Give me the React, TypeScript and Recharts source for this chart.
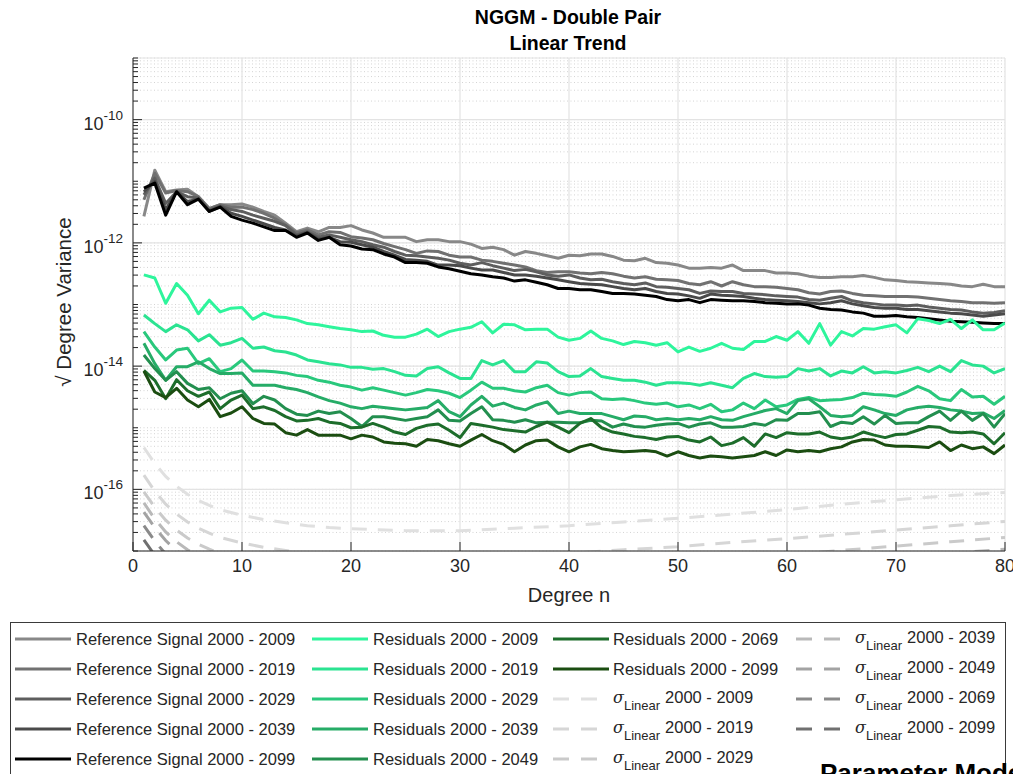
import { LineChart, Line, XAxis, YAxis, CartesianGrid } from "recharts";

const FONT = '"Liberation Sans", Arial, Helvetica, sans-serif';
const INK = "#262626";

// spherical harmonic degree n
const degrees = [
  1, 2, 3, 4, 5, 6, 7, 8, 9, 10, 11, 12, 13, 14, 15, 16, 17, 18, 19, 20,
  21, 22, 23, 24, 25, 26, 27, 28, 29, 30, 31, 32, 33, 34, 35, 36, 37, 38, 39, 40,
  41, 42, 43, 44, 45, 46, 47, 48, 49, 50, 51, 52, 53, 54, 55, 56, 57, 58, 59, 60,
  61, 62, 63, 64, 65, 66, 67, 68, 69, 70, 71, 72, 73, 74, 75, 76, 77, 78, 79, 80,
];

// log10 of sqrt degree variance
const ref2009Log = [
  -11.57, -10.82, -11.17, -11.14, -11.13, -11.25, -11.44, -11.38, -11.38, -11.37,
  -11.42, -11.49, -11.55, -11.68, -11.82, -11.76, -11.82, -11.75, -11.75, -11.72,
  -11.79, -11.84, -11.91, -11.91, -11.91, -11.98, -11.95, -11.95, -11.98, -11.98,
  -12.02, -12.09, -12.07, -12.11, -12.2, -12.14, -12.17, -12.21, -12.25, -12.2,
  -12.21, -12.18, -12.18, -12.22, -12.28, -12.29, -12.25, -12.32, -12.33, -12.36,
  -12.41, -12.41, -12.4, -12.41, -12.36, -12.45, -12.45, -12.45, -12.49, -12.49,
  -12.5, -12.54, -12.56, -12.56, -12.55, -12.55, -12.53, -12.56, -12.6, -12.61,
  -12.63, -12.64, -12.65, -12.66, -12.67, -12.7, -12.71, -12.67, -12.71, -12.71,
];
const ref2019Log = [
  -11.3, -10.87, -11.19, -11.15, -11.17, -11.25, -11.45, -11.38, -11.42, -11.42,
  -11.46, -11.52, -11.6, -11.71, -11.84, -11.79, -11.87, -11.82, -11.83, -11.9,
  -11.92, -11.95, -12.01, -12.06, -12.11, -12.17, -12.13, -12.14, -12.2, -12.23,
  -12.23, -12.28, -12.3, -12.33, -12.36, -12.39, -12.45, -12.48, -12.47, -12.47,
  -12.49, -12.5, -12.48, -12.5, -12.54, -12.57, -12.55, -12.59, -12.6, -12.61,
  -12.66, -12.68, -12.63, -12.7, -12.63, -12.68, -12.71, -12.71, -12.72, -12.74,
  -12.76, -12.81, -12.83, -12.79, -12.78, -12.82, -12.85, -12.86, -12.87, -12.87,
  -12.87, -12.88, -12.9, -12.92, -12.94, -12.95, -12.97, -12.97, -12.98, -12.97,
];
const ref2029Log = [
  -11.22, -10.95, -11.36, -11.17, -11.25, -11.27, -11.47, -11.4, -11.46, -11.49,
  -11.55, -11.6, -11.65, -11.72, -11.87, -11.82, -11.91, -11.87, -11.91, -11.95,
  -11.98, -12.03, -12.07, -12.14, -12.2, -12.21, -12.23, -12.25, -12.28, -12.33,
  -12.36, -12.32, -12.37, -12.41, -12.45, -12.43, -12.47, -12.52, -12.54, -12.52,
  -12.57, -12.6, -12.59, -12.63, -12.66, -12.68, -12.65, -12.71, -12.72, -12.74,
  -12.76, -12.82, -12.78, -12.79, -12.79, -12.82, -12.83, -12.84, -12.86, -12.87,
  -12.88, -12.92, -12.93, -12.9, -12.87, -12.94, -12.97, -12.99, -13.01, -13.01,
  -13.02, -13.01, -13.04, -13.06, -13.08, -13.09, -13.12, -13.14, -13.13, -13.1,
];
const ref2039Log = [
  -11.17, -11.0, -11.46, -11.17, -11.33, -11.29, -11.49, -11.41, -11.52, -11.57,
  -11.63, -11.69, -11.75, -11.79, -11.89, -11.83, -11.94, -11.91, -11.98, -11.99,
  -12.03, -12.07, -12.14, -12.2, -12.27, -12.28, -12.3, -12.36, -12.36, -12.37,
  -12.41, -12.44, -12.44, -12.48, -12.52, -12.52, -12.54, -12.57, -12.6, -12.63,
  -12.66, -12.67, -12.68, -12.71, -12.74, -12.76, -12.74, -12.79, -12.82, -12.83,
  -12.86, -12.9, -12.83, -12.85, -12.86, -12.87, -12.9, -12.92, -12.93, -12.94,
  -12.95, -12.97, -12.99, -12.97, -12.94, -12.99, -13.02, -13.05, -13.06, -13.06,
  -13.08, -13.08, -13.1, -13.12, -13.14, -13.15, -13.17, -13.19, -13.17, -13.15,
];
const ref2099Log = [
  -11.11, -11.03, -11.55, -11.17, -11.38, -11.29, -11.49, -11.42, -11.57, -11.63,
  -11.68, -11.74, -11.8, -11.8, -11.91, -11.84, -11.96, -11.91, -12.03, -12.05,
  -12.1, -12.11, -12.18, -12.23, -12.32, -12.32, -12.33, -12.39, -12.42, -12.46,
  -12.5, -12.52, -12.55, -12.57, -12.62, -12.6, -12.64, -12.68, -12.74, -12.74,
  -12.76, -12.76, -12.79, -12.82, -12.82, -12.83, -12.85, -12.87, -12.92, -12.94,
  -12.92, -12.97, -12.92, -12.93, -12.94, -12.94, -12.95, -12.97, -12.98, -12.99,
  -12.99, -13.01, -13.06, -13.08, -13.09, -13.12, -13.14, -13.19, -13.19, -13.18,
  -13.2, -13.21, -13.23, -13.25, -13.27, -13.28, -13.29, -13.3, -13.31, -13.31,
];

const res2009Log = [
  -12.52, -12.57, -12.98, -12.66, -12.85, -13.15, -12.93, -13.12, -13.06, -13.05,
  -13.24, -13.14, -13.2, -13.21, -13.25, -13.31, -13.33, -13.36, -13.39, -13.41,
  -13.44, -13.43, -13.5, -13.53, -13.53, -13.48, -13.4, -13.52, -13.44, -13.4,
  -13.37, -13.28, -13.46, -13.32, -13.33, -13.41, -13.4, -13.4, -13.53, -13.58,
  -13.55, -13.43, -13.55, -13.59, -13.65, -13.6, -13.62, -13.66, -13.62, -13.77,
  -13.69, -13.76, -13.71, -13.63, -13.71, -13.73, -13.6, -13.6, -13.52, -13.58,
  -13.44, -13.63, -13.31, -13.66, -13.44, -13.51, -13.39, -13.4, -13.36, -13.33,
  -13.46, -13.23, -13.26, -13.31, -13.24, -13.39, -13.25, -13.41, -13.41, -13.3,
];
const res2019Log = [
  -13.17, -13.31, -13.44, -13.33, -13.41, -13.59, -13.49, -13.66, -13.62, -13.55,
  -13.71, -13.69, -13.75, -13.77, -13.82, -13.9, -13.93, -13.96, -13.98, -14.02,
  -14.02, -14.05, -14.04, -14.09, -14.15, -14.16, -14.04, -14.01, -14.11, -14.2,
  -14.2, -13.91, -13.98, -13.91, -14.09, -14.09, -13.93, -13.95, -14.09, -14.17,
  -14.16, -14.04, -14.17, -14.2, -14.23, -14.23, -14.26, -14.31, -14.27, -14.27,
  -14.28, -14.31, -14.27, -14.31, -14.35, -14.2, -14.12, -14.17, -14.18, -14.17,
  -14.04, -14.08, -14.04, -14.16, -14.08, -14.11, -14.01, -14.11, -14.09, -14.11,
  -14.07, -14.02, -14.09, -14.0, -14.09, -13.91, -13.98, -14.0, -14.11, -14.04,
];
const res2029Log = [
  -13.44, -13.69, -13.9, -13.74, -13.71, -13.96, -13.88, -14.09, -14.04, -13.9,
  -14.08, -14.08, -14.09, -14.11, -14.15, -14.17, -14.23, -14.26, -14.31, -14.34,
  -14.39, -14.35, -14.39, -14.43, -14.47, -14.43, -14.38, -14.4, -14.44, -14.51,
  -14.39, -14.26, -14.36, -14.36, -14.4, -14.42, -14.35, -14.31, -14.43, -14.47,
  -14.43, -14.42, -14.53, -14.54, -14.53, -14.56, -14.6, -14.62, -14.6, -14.66,
  -14.63, -14.69, -14.62, -14.74, -14.71, -14.6, -14.69, -14.55, -14.66, -14.63,
  -14.54, -14.51, -14.56, -14.55, -14.54, -14.51, -14.44, -14.46, -14.47, -14.49,
  -14.42, -14.33, -14.4, -14.53, -14.56, -14.38, -14.5, -14.49, -14.62, -14.49,
];
const res2039Log = [
  -13.63, -13.96, -14.23, -14.01, -14.01, -13.93, -14.04, -14.12, -14.12, -14.11,
  -14.31, -14.31, -14.31, -14.35, -14.38, -14.43, -14.5, -14.56, -14.6, -14.66,
  -14.69, -14.65, -14.67, -14.69, -14.71, -14.69, -14.67, -14.56, -14.74, -14.82,
  -14.63, -14.49, -14.65, -14.6, -14.67, -14.71, -14.63, -14.58, -14.77, -14.73,
  -14.77, -14.77, -14.77, -14.82, -14.87, -14.81, -14.82, -14.87, -14.85, -14.87,
  -14.85, -14.87, -14.82, -14.87, -14.88, -14.82, -14.77, -14.72, -14.69, -14.77,
  -14.56, -14.53, -14.66, -14.8, -14.82, -14.8, -14.66, -14.71, -14.77, -14.8,
  -14.71, -14.67, -14.65, -14.67, -14.71, -14.73, -14.77, -14.76, -14.85, -14.72,
];
const res2049Log = [
  -13.82, -14.04, -14.23, -14.09, -14.28, -14.38, -14.35, -14.53, -14.44, -14.4,
  -14.61, -14.49, -14.55, -14.69, -14.78, -14.8, -14.73, -14.77, -14.74, -14.85,
  -14.98, -14.82, -14.82, -14.85, -14.88, -14.85, -14.82, -14.71, -14.88, -14.89,
  -14.77, -14.66, -14.87, -14.88, -14.91, -14.87, -14.92, -14.91, -14.91, -14.92,
  -14.92, -14.88, -14.89, -14.99, -14.94, -14.98, -14.99, -14.96, -14.94, -14.93,
  -14.99, -14.94, -14.92, -14.99, -14.99, -14.98, -14.93, -14.96, -14.87, -14.88,
  -14.77, -14.77, -14.74, -14.98, -14.91, -14.93, -14.82, -14.94, -14.8, -14.93,
  -14.92, -14.92, -14.82, -14.73, -14.88, -14.73, -14.88, -14.77, -14.99, -14.77,
];
const res2069Log = [
  -14.07, -14.23, -14.53, -14.22, -14.4, -14.49, -14.42, -14.69, -14.55, -14.47,
  -14.69, -14.66, -14.72, -14.82, -14.89, -14.88, -14.85, -14.91, -14.93, -15.0,
  -14.99, -14.93, -14.99, -15.07, -15.11, -15.01, -14.96, -14.94, -15.04, -15.16,
  -14.93, -14.96, -14.99, -15.03, -15.05, -15.07, -14.98, -14.91, -14.99, -15.08,
  -14.93, -14.85, -15.0, -15.07, -15.1, -15.14, -15.16, -15.19, -15.15, -15.14,
  -15.2, -15.23, -15.15, -15.29, -15.25, -15.16, -15.3, -15.1, -15.16, -15.08,
  -15.1, -15.1, -15.07, -15.15, -15.18, -15.15, -15.07, -15.12, -15.16, -15.11,
  -15.1, -15.04, -14.98, -14.99, -15.07, -15.08, -15.07, -15.1, -15.26, -15.08,
];
const res2099Log = [
  -14.08, -14.42, -14.51, -14.36, -14.55, -14.66, -14.54, -14.82, -14.76, -14.66,
  -14.85, -14.93, -14.94, -15.08, -15.12, -15.03, -15.12, -15.12, -15.12, -15.18,
  -15.12, -15.15, -15.23, -15.25, -15.26, -15.3, -15.19, -15.21, -15.26, -15.3,
  -15.2, -15.11, -15.21, -15.27, -15.39, -15.28, -15.21, -15.2, -15.31, -15.39,
  -15.31, -15.27, -15.34, -15.37, -15.39, -15.38, -15.37, -15.39, -15.46, -15.39,
  -15.45, -15.49, -15.46, -15.47, -15.49, -15.47, -15.45, -15.39, -15.45, -15.36,
  -15.39, -15.37, -15.39, -15.34, -15.31, -15.23, -15.19, -15.2, -15.28, -15.3,
  -15.3, -15.31, -15.32, -15.23, -15.37, -15.28, -15.34, -15.31, -15.42, -15.28,
];

// formal error of the linear trend (smooth), sampled at these degrees
const sigmaDegrees = [1, 2, 3, 4, 5, 6, 7, 8, 10, 12, 14, 16, 18, 20, 25, 30, 35, 40, 45, 50, 55, 60, 65, 70, 75, 80];
const sigma2009Log = [-15.32, -15.58, -15.79, -15.95, -16.08, -16.18, -16.26, -16.33, -16.42, -16.49, -16.54, -16.59, -16.62, -16.64, -16.67, -16.67, -16.63, -16.59, -16.53, -16.47, -16.4, -16.33, -16.24, -16.17, -16.1, -16.05];
const sigma2019Log = [-15.77, -16.03, -16.24, -16.4, -16.53, -16.63, -16.71, -16.78, -16.87, -16.94, -16.99, -17.04, -17.07, -17.09, -17.12, -17.12, -17.08, -17.04, -16.98, -16.93, -16.86, -16.8, -16.73, -16.66, -16.59, -16.52];
const sigma2029Log = [-16.04, -16.29, -16.5, -16.66, -16.79, -16.89, -16.97, -17.04, -17.13, -17.2, -17.25, -17.3, -17.33, -17.35, -17.38, -17.38, -17.34, -17.3, -17.24, -17.19, -17.12, -17.06, -16.99, -16.92, -16.85, -16.78];
const sigma2039Log = [-16.22, -16.48, -16.69, -16.85, -16.98, -17.08, -17.16, -17.23, -17.32, -17.39, -17.44, -17.49, -17.52, -17.54, -17.57, -17.57, -17.53, -17.49, -17.43, -17.38, -17.31, -17.25, -17.18, -17.11, -17.04, -16.97];
const sigma2049Log = [-16.37, -16.62, -16.83, -17.0, -17.13, -17.23, -17.31, -17.38, -17.47, -17.54, -17.59, -17.64, -17.67, -17.69, -17.72, -17.72, -17.68, -17.64, -17.58, -17.53, -17.46, -17.4, -17.33, -17.26, -17.19, -17.12];
const sigma2069Log = [-16.59, -16.84, -17.05, -17.21, -17.34, -17.44, -17.52, -17.59, -17.68, -17.75, -17.8, -17.85, -17.88, -17.9, -17.93, -17.93, -17.89, -17.85, -17.79, -17.74, -17.67, -17.61, -17.54, -17.47, -17.4, -17.33];
const sigma2099Log = [-16.82, -17.07, -17.28, -17.44, -17.57, -17.67, -17.75, -17.82, -17.91, -17.98, -18.03, -18.08, -18.11, -18.13, -18.16, -18.16, -18.12, -18.08, -18.02, -17.97, -17.9, -17.84, -17.77, -17.7, -17.63, -17.56];

const xTicks = [0, 10, 20, 30, 40, 50, 60, 70, 80];
const yMajorExp = [-16, -14, -12, -10];
const yDomain: [number, number] = [1e-17, 1e-9];

const refSeries = [
  { key: "ref2009", label: "Reference Signal 2000 - 2009", color: "#888888", values: ref2009Log },
  { key: "ref2019", label: "Reference Signal 2000 - 2019", color: "#717171", values: ref2019Log },
  { key: "ref2029", label: "Reference Signal 2000 - 2029", color: "#5e5e5e", values: ref2029Log },
  { key: "ref2039", label: "Reference Signal 2000 - 2039", color: "#4a4a4a", values: ref2039Log },
  { key: "ref2099", label: "Reference Signal 2000 - 2099", color: "#000000", values: ref2099Log },
];
const residualSeries = [
  { key: "res2009", label: "Residuals 2000 - 2009", color: "#2ef59c", values: res2009Log },
  { key: "res2019", label: "Residuals 2000 - 2019", color: "#2be391", values: res2019Log },
  { key: "res2029", label: "Residuals 2000 - 2029", color: "#29c87c", values: res2029Log },
  { key: "res2039", label: "Residuals 2000 - 2039", color: "#26ac67", values: res2039Log },
  { key: "res2049", label: "Residuals 2000 - 2049", color: "#238f4f", values: res2049Log },
  { key: "res2069", label: "Residuals 2000 - 2069", color: "#1d6d2b", values: res2069Log },
  { key: "res2099", label: "Residuals 2000 - 2099", color: "#1b4d11", values: res2099Log },
];
const sigmaSeries = [
  { key: "sig2009", label: "2000 - 2009", color: "#e0e0e0", values: sigma2009Log },
  { key: "sig2019", label: "2000 - 2019", color: "#d6d6d6", values: sigma2019Log },
  { key: "sig2029", label: "2000 - 2029", color: "#cacaca", values: sigma2029Log },
  { key: "sig2039", label: "2000 - 2039", color: "#b9b9b9", values: sigma2039Log },
  { key: "sig2049", label: "2000 - 2049", color: "#a3a3a3", values: sigma2049Log },
  { key: "sig2069", label: "2000 - 2069", color: "#8a8a8a", values: sigma2069Log },
  { key: "sig2099", label: "2000 - 2099", color: "#707070", values: sigma2099Log },
];

const table = degrees.map((n, i) => {
  const row: Record<string, number> = { n };
  [...refSeries, ...residualSeries].forEach((s) => {
    row[s.key] = Math.pow(10, s.values[i]);
  });
  return row;
});
const sigmaTable = sigmaDegrees.map((n, i) => {
  const row: Record<string, number> = { n };
  sigmaSeries.forEach((s) => {
    row[s.key] = Math.pow(10, s.values[i]);
  });
  return row;
});

// 1..9 x 10^k for the minor ticks / dotted grid
const yMinorTicks: number[] = [];
for (let e = -17; e < -9; e++) {
  for (let m = 1; m < 10; m++) yMinorTicks.push(m * Math.pow(10, e));
}
yMinorTicks.push(1e-9);
const yMajorTicks = yMajorExp.map((e) => Math.pow(10, e));

const YTick = (props: any) => {
  const { x, y, payload } = props;
  const v = payload.value;
  const e = Math.round(Math.log10(v));
  const major = Math.abs(v / Math.pow(10, e) - 1) < 1e-6 && yMajorExp.includes(e);
  return (
    <g>
      <line x1={x} x2={x + (major ? 9 : 5)} y1={y} y2={y} stroke={INK} />
      {major && (
        <text x={x - 10} y={y + 10} textAnchor="end" fontFamily={FONT} fontSize={18} fill={INK}>
          10
          <tspan dy={-10} fontSize={13.5}>{`-${-e}`}</tspan>
        </text>
      )}
    </g>
  );
};

const XTick = (props: any) => {
  const { x, y, payload } = props;
  return (
    <g>
      <line x1={x} x2={x} y1={y} y2={y - 9} stroke={INK} />
      <text x={x} y={y + 21} textAnchor="middle" fontFamily={FONT} fontSize={18} fill={INK}>
        {payload.value}
      </text>
    </g>
  );
};

type Entry = { key: string; label: string; color: string; sigma?: boolean };

const legendColumns: { lineX: number; textX: number; items: Entry[] }[] = [
  { lineX: 15, textX: 76, items: refSeries },
  { lineX: 312, textX: 373, items: residualSeries.slice(0, 5) },
  {
    lineX: 553,
    textX: 613,
    items: [...residualSeries.slice(5), ...sigmaSeries.slice(0, 3).map((s) => ({ ...s, sigma: true }))],
  },
  { lineX: 796, textX: 855, items: sigmaSeries.slice(3).map((s) => ({ ...s, sigma: true })) },
];

function LegendBox() {
  return (
    <g>
      <rect x={10.5} y={622.5} width={995} height={200} fill="#fff" stroke="#3a3a3a" strokeWidth={1} />
      {legendColumns.map((col) =>
        col.items.map((it, r) => {
          const ry = 639 + r * 30;
          if (it.sigma) {
            return (
              <g key={it.key}>
                <line x1={col.lineX} x2={col.lineX + 45} y1={ry} y2={ry} stroke={it.color} strokeWidth={3} strokeDasharray="16 12" />
                <text x={col.textX} y={ry + 4} fontFamily={FONT} fontSize={16.5} fill={INK}>
                  <tspan fontFamily="'DejaVu Serif', serif" fontStyle="italic" fontSize={16}>σ</tspan>
                  <tspan dy={7} fontSize={13}>Linear</tspan>
                  <tspan dy={-7} dx={5}>{it.label}</tspan>
                </text>
              </g>
            );
          }
          return (
            <g key={it.key}>
              <line x1={col.lineX} x2={col.lineX + 56} y1={ry} y2={ry} stroke={it.color} strokeWidth={3} />
              <text x={col.textX} y={ry + 6} fontFamily={FONT} fontSize={16.5} fill={INK}>
                {it.label}
              </text>
            </g>
          );
        })
      )}
    </g>
  );
}

export default function App() {
  return (
    <div style={{ position: "relative", width: 1013, height: 774, overflow: "hidden", background: "#fff" }}>
      <style>{"body{margin:0}"}</style>
      <LineChart width={1013} height={774} data={table} margin={{ top: 58, right: 8, bottom: 193, left: 73 }}>
        <CartesianGrid yAxisId="left" vertical={false} stroke="#d4d4d4" strokeDasharray="1 2.5" />
        <CartesianGrid yAxisId="major" stroke="#e3e3e3" strokeWidth={1.2} />
        <XAxis
          type="number"
          dataKey="n"
          domain={[0, 80]}
          ticks={xTicks}
          interval={0}
          tickSize={0}
          tickMargin={0}
          tickLine={false}
          axisLine={{ stroke: INK }}
          height={30}
          tick={XTick}
          allowDataOverflow
        />
        <YAxis
          yAxisId="left"
          type="number"
          scale="log"
          domain={yDomain}
          allowDataOverflow
          ticks={yMinorTicks}
          interval={0}
          tickSize={0}
          tickMargin={0}
          tickLine={false}
          axisLine={{ stroke: INK }}
          width={60}
          tick={YTick}
        />
        <YAxis yAxisId="major" type="number" scale="log" domain={yDomain} allowDataOverflow ticks={yMajorTicks} interval={0} hide />
        {refSeries.map((s) => (
          <Line key={s.key} yAxisId="left" type="linear" dataKey={s.key} stroke={s.color} strokeWidth={3}
            strokeLinejoin="round" dot={false} activeDot={false} isAnimationActive={false} />
        ))}
        {residualSeries.map((s) => (
          <Line key={s.key} yAxisId="left" type="linear" dataKey={s.key} stroke={s.color} strokeWidth={3}
            strokeLinejoin="round" dot={false} activeDot={false} isAnimationActive={false} />
        ))}
        {sigmaSeries.map((s) => (
          <Line key={s.key} yAxisId="left" type="linear" data={sigmaTable} dataKey={s.key} stroke={s.color}
            strokeWidth={3} strokeDasharray="15 11" dot={false} activeDot={false} isAnimationActive={false} />
        ))}
      </LineChart>
      <svg width={1013} height={774} style={{ position: "absolute", left: 0, top: 0, pointerEvents: "none" }}>
        <text x={568} y={24} textAnchor="middle" fontFamily={FONT} fontSize={19.5} fontWeight="bold" fill="#000">
          NGGM - Double Pair
        </text>
        <text x={568} y={50} textAnchor="middle" fontFamily={FONT} fontSize={19.5} fontWeight="bold" fill="#000">
          Linear Trend
        </text>
        <text x={569} y={602} textAnchor="middle" fontFamily={FONT} fontSize={20} fill={INK}>
          Degree n
        </text>
        <text x={71} y={302} transform="rotate(-90 71 302)" textAnchor="middle" fontFamily={FONT} fontSize={20.5} fill={INK}>
          √ Degree Variance
        </text>
        <LegendBox />
        <text x={820} y={782} fontFamily={FONT} fontSize={26} fontWeight="bold" fill="#000">
          Parameter Model
        </text>
      </svg>
    </div>
  );
}
